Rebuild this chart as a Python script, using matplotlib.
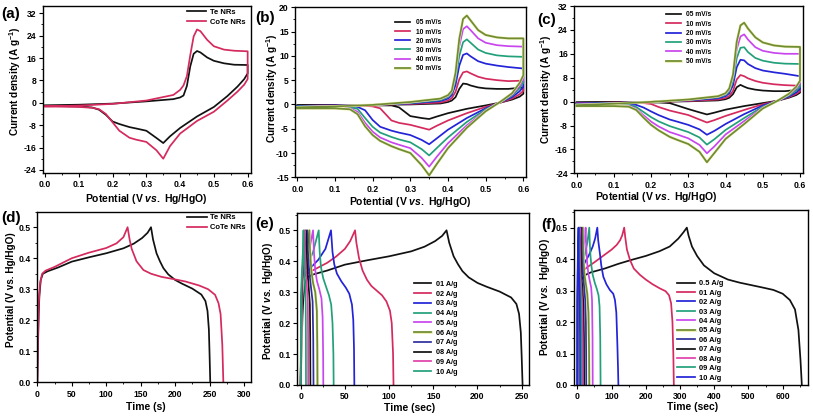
import matplotlib
matplotlib.use('Agg')
import matplotlib.pyplot as plt
from matplotlib.ticker import AutoMinorLocator
import matplotlib.patheffects as pe

plt.rcParams['font.family'] = ['Liberation Sans', 'DejaVu Sans']
plt.rcParams['font.weight'] = 'bold'
plt.rcParams['mathtext.fontset'] = 'custom'
plt.rcParams['mathtext.rm'] = 'Liberation Sans:bold'
plt.rcParams['mathtext.bf'] = 'Liberation Sans:bold'
plt.rcParams['mathtext.it'] = 'Liberation Sans:italic:bold'
plt.rcParams['mathtext.sf'] = 'Liberation Sans:bold'

# ---------------- CV data (potential grids shared) ----------------
E_AN = [0.0, 0.1, 0.2, 0.3, 0.38, 0.40, 0.41, 0.42, 0.43, 0.44, 0.45, 0.46, 0.48, 0.50, 0.53, 0.56, 0.60]
E_CA = [0.60, 0.59, 0.57, 0.54, 0.50, 0.45, 0.40, 0.37, 0.35, 0.33, 0.30, 0.27, 0.25, 0.22, 0.20, 0.18, 0.16, 0.14, 0.10, 0.0]

# (a) Te NRs / CoTe NRs
a_labels = ['Te NRs', 'CoTe NRs']
a_te_an = [-0.9, -0.7, -0.3, 0.5, 1.3, 1.9, 2.6, 6.0, 13.0, 17.5, 18.5, 18.0, 16.2, 15.0, 14.1, 13.6, 13.5]
a_te_ca = [10.5, 8.5, 5.8, 2.4, -1.5, -4.9, -9.0, -12.0, -14.4, -12.6, -10.0, -9.2, -8.7, -7.6, -6.7, -4.3, -2.5, -1.7, -1.3, -1.1]
a_co_an = [-1.3, -1.0, -0.4, 0.8, 2.8, 4.6, 6.2, 9.5, 17.0, 23.7, 26.2, 25.6, 22.5, 20.2, 19.0, 18.6, 18.4]
a_co_ca = [8.5, 6.5, 4.0, 0.8, -3.2, -6.5, -11.0, -15.5, -20.0, -17.0, -14.0, -13.2, -12.5, -10.0, -7.0, -4.0, -2.3, -1.8, -1.5, -1.3]

# (b) scan rates
b_labels = ['05 mV/s', '10 mV/s', '20 mV/s', '30 mV/s', '40 mV/s', '50 mV/s']
b_an = [
    [-0.2, -0.1, -0.1, 0.0, 0.2, 0.5, 0.8, 1.5, 3.2, 4.3, 4.2, 3.9, 3.5, 3.3, 3.2, 3.2, 3.5],
    [-0.3, -0.2, -0.1, 0.1, 0.4, 0.8, 1.3, 2.6, 5.2, 6.6, 6.8, 6.4, 5.7, 5.3, 5.0, 4.8, 4.9],
    [-0.3, -0.2, -0.1, 0.2, 0.7, 1.2, 1.9, 4.0, 8.0, 10.2, 10.5, 9.9, 8.9, 8.4, 8.0, 7.7, 7.4],
    [-0.4, -0.3, -0.1, 0.3, 0.9, 1.5, 2.3, 5.0, 10.0, 12.8, 13.4, 12.7, 11.3, 10.6, 10.1, 9.9, 9.8],
    [-0.5, -0.3, -0.1, 0.4, 1.1, 1.7, 2.6, 5.8, 12.0, 15.5, 16.1, 15.3, 13.6, 12.7, 12.2, 12.0, 11.9],
    [-0.6, -0.4, -0.1, 0.5, 1.2, 1.9, 2.8, 6.5, 13.5, 17.6, 18.3, 17.3, 15.3, 14.3, 13.8, 13.6, 13.6],
]
b_ca = [
    [2.2, 1.6, 1.0, 0.4, -0.2, -0.9, -1.8, -2.5, -3.0, -2.8, -2.4, -0.6, -0.2, -0.2, -0.2, -0.2, -0.2, -0.2, -0.2, -0.2],
    [2.8, 2.1, 1.2, 0.4, -0.5, -1.8, -3.3, -4.4, -5.2, -4.8, -4.2, -3.8, -3.3, -0.8, -0.4, -0.3, -0.3, -0.3, -0.3, -0.3],
    [3.6, 2.7, 1.5, 0.5, -0.8, -2.8, -5.2, -7.0, -8.2, -7.3, -6.3, -5.8, -5.4, -4.6, -3.2, -1.2, -0.5, -0.4, -0.3, -0.3],
    [4.5, 3.3, 1.8, 0.5, -1.0, -3.6, -6.8, -9.0, -10.5, -9.2, -7.8, -7.2, -6.7, -5.8, -4.6, -2.8, -0.9, -0.6, -0.5, -0.5],
    [5.2, 3.8, 2.0, 0.6, -1.2, -4.3, -8.0, -10.8, -12.8, -11.0, -9.0, -8.3, -7.8, -6.8, -5.6, -3.8, -1.5, -0.8, -0.6, -0.6],
    [6.0, 4.4, 2.3, 0.6, -1.4, -4.8, -9.0, -12.3, -14.6, -12.5, -10.0, -9.2, -8.6, -7.5, -6.3, -4.5, -2.0, -1.0, -0.8, -0.8],
]

# (c) scan rates
c_labels = ['05 mV/s', '10 mV/s', '20 mV/s', '30 mV/s', '40 mV/s', '50 mV/s']
c_an = [
    [-0.3, -0.2, -0.1, 0.1, 0.4, 0.8, 1.3, 2.5, 4.8, 5.6, 5.0, 4.5, 4.0, 3.7, 3.5, 3.5, 4.0],
    [-0.5, -0.3, -0.1, 0.2, 0.7, 1.2, 1.9, 3.6, 7.4, 8.9, 8.5, 7.8, 6.9, 6.3, 5.8, 5.5, 5.3],
    [-0.6, -0.4, -0.1, 0.4, 1.1, 1.8, 2.8, 5.5, 11.5, 14.0, 13.8, 12.6, 11.2, 10.4, 9.8, 9.3, 8.5],
    [-0.8, -0.5, -0.1, 0.5, 1.4, 2.2, 3.4, 6.8, 14.5, 18.0, 18.2, 16.6, 14.6, 13.7, 13.0, 12.7, 12.6],
    [-1.0, -0.6, -0.1, 0.6, 1.6, 2.5, 3.9, 8.0, 17.5, 21.8, 22.5, 20.8, 18.2, 17.0, 16.3, 16.0, 16.0],
    [-1.2, -0.7, -0.1, 0.7, 1.8, 2.8, 4.4, 9.0, 20.0, 25.5, 26.4, 24.5, 21.5, 19.8, 18.8, 18.4, 18.3],
]
c_ca = [
    [3.0, 2.2, 1.3, 0.3, -0.5, -1.5, -2.7, -3.7, -4.3, -3.6, -2.5, -1.3, -0.5, -0.3, -0.3, -0.3, -0.3, -0.3, -0.3, -0.3],
    [3.5, 2.6, 1.5, 0.3, -0.9, -2.8, -4.8, -6.2, -7.0, -6.0, -4.5, -3.6, -3.0, -1.8, -0.8, -0.5, -0.5, -0.5, -0.5, -0.5],
    [4.2, 3.1, 1.7, 0.3, -1.3, -4.2, -7.5, -9.8, -11.1, -9.3, -7.8, -6.7, -6.0, -4.5, -3.3, -2.0, -1.1, -0.9, -0.8, -0.8],
    [5.0, 3.7, 2.0, 0.3, -1.7, -5.5, -9.5, -12.6, -14.4, -12.0, -10.2, -9.0, -8.2, -6.6, -5.2, -3.5, -1.8, -1.1, -1.0, -1.0],
    [6.0, 4.4, 2.3, 0.3, -2.0, -6.5, -11.0, -15.0, -17.3, -14.5, -12.3, -11.0, -10.2, -8.3, -6.7, -4.6, -2.4, -1.4, -1.2, -1.2],
    [7.0, 5.0, 2.6, 0.3, -2.3, -7.5, -12.5, -17.2, -20.3, -16.8, -14.2, -12.8, -11.8, -9.6, -7.8, -5.4, -2.8, -1.7, -1.5, -1.5],
]

# ---------------- GCD data ----------------
# (d)
d_labels = ['Te NRs', 'CoTe NRs']
d_te_t = [0, 1, 2, 3, 5, 8, 15, 30, 50, 75, 100, 125, 140, 152, 160, 165, 168, 173, 178, 183, 190, 200, 210, 225, 238, 244, 247, 249, 250, 251]
d_te_v = [0, 0.12, 0.22, 0.28, 0.33, 0.35, 0.358, 0.37, 0.389, 0.403, 0.416, 0.432, 0.447, 0.465, 0.482, 0.5, 0.46, 0.416, 0.39, 0.368, 0.348, 0.33, 0.318, 0.302, 0.283, 0.262, 0.23, 0.17, 0.09, 0]
d_co_t = [0, 1, 2, 4, 7, 12, 25, 50, 75, 100, 115, 125, 131, 134, 137, 144, 154, 165, 180, 197, 215, 235, 248, 258, 263, 266, 268.5, 270]
d_co_v = [0, 0.15, 0.25, 0.32, 0.35, 0.36, 0.372, 0.4, 0.418, 0.433, 0.448, 0.468, 0.5, 0.46, 0.43, 0.39, 0.362, 0.35, 0.34, 0.333, 0.325, 0.312, 0.3, 0.282, 0.255, 0.22, 0.12, 0]

# (e)
e_labels = ['01 A/g', '02 A/g', '03 A/g', '04 A/g', '05 A/g', '06 A/g', '07 A/g', '08 A/g', '09 A/g', '10 A/g']
e_t = [
    [0, 1, 2, 3, 5, 8, 15, 30, 50, 75, 100, 125, 140, 152, 160, 165, 168, 173, 178, 183, 190, 200, 210, 225, 238, 244, 247, 249, 250, 251],
    [0, 1, 2, 4, 10, 20, 30, 40, 50, 56, 61.5, 63, 66, 70, 75, 80, 86, 92, 97, 101, 103, 104.5, 105],
    [0, 1, 2, 4, 10, 20, 28, 34.3, 36, 38, 41, 46, 51, 55, 58, 59.5, 60.3, 60.7],
    [0, 1, 2, 4, 8, 14, 20.4, 21.5, 23, 25.5, 29, 32, 34.5, 36, 37, 37.3],
    [0, 1, 2, 4, 8, 14, 15, 16.5, 18.5, 21, 23.5, 24.8, 25.4, 25.6],
    [0, 1, 2, 4, 7, 9.8, 10.6, 12, 14, 16.5, 18.3, 18.8, 19],
    [0, 1, 2, 3.5, 5.5, 7.5, 8.2, 9.5, 11.5, 13.5, 14.2, 14.5],
    [0, 1, 2, 3, 4.5, 6, 6.6, 7.6, 9, 10.4, 10.8, 11],
    [0, 0.8, 1.6, 2.5, 3.5, 4.5, 5, 5.8, 7, 8.1, 8.4, 8.5],
    [0, 0.6, 1.2, 1.8, 2.5, 3.2, 3.6, 4.2, 5, 5.7, 5.9, 6],
]
e_v = [
    [0, 0.12, 0.22, 0.28, 0.33, 0.35, 0.358, 0.37, 0.389, 0.403, 0.416, 0.432, 0.447, 0.465, 0.482, 0.5, 0.46, 0.416, 0.39, 0.368, 0.348, 0.33, 0.318, 0.302, 0.283, 0.262, 0.23, 0.17, 0.09, 0],
    [0, 0.2, 0.3, 0.35, 0.365, 0.38, 0.395, 0.415, 0.44, 0.465, 0.5, 0.46, 0.41, 0.37, 0.34, 0.32, 0.305, 0.29, 0.27, 0.24, 0.2, 0.1, 0],
    [0, 0.22, 0.32, 0.355, 0.375, 0.405, 0.44, 0.5, 0.43, 0.39, 0.36, 0.335, 0.315, 0.295, 0.26, 0.21, 0.12, 0],
    [0, 0.22, 0.32, 0.36, 0.39, 0.43, 0.5, 0.43, 0.38, 0.345, 0.315, 0.29, 0.26, 0.2, 0.1, 0],
    [0, 0.25, 0.33, 0.37, 0.41, 0.5, 0.43, 0.37, 0.335, 0.31, 0.28, 0.22, 0.1, 0],
    [0, 0.27, 0.34, 0.38, 0.43, 0.5, 0.43, 0.37, 0.33, 0.3, 0.24, 0.12, 0],
    [0, 0.28, 0.35, 0.39, 0.43, 0.5, 0.43, 0.37, 0.32, 0.27, 0.15, 0],
    [0, 0.29, 0.36, 0.39, 0.43, 0.5, 0.43, 0.37, 0.32, 0.26, 0.15, 0],
    [0, 0.29, 0.36, 0.39, 0.43, 0.5, 0.43, 0.37, 0.32, 0.26, 0.15, 0],
    [0, 0.29, 0.36, 0.39, 0.43, 0.5, 0.43, 0.37, 0.32, 0.26, 0.15, 0],
]

# (f)
f_labels = ['0.5 A/g', '01 A/g', '02 A/g', '03 A/g', '04 A/g', '05 A/g', '06 A/g', '07 A/g', '08 A/g', '09 A/g', '10 A/g']
f_t = [
    [0, 2, 4, 7, 12, 20, 40, 80, 120, 160, 200, 240, 270, 295, 310, 320, 325, 335, 350, 370, 400, 440, 475, 540, 573, 600, 621, 636, 646, 652, 656],
    [0, 1, 2, 4, 8, 15, 30, 50, 75, 100, 115, 125, 131, 137, 140, 145, 154, 165, 183, 200, 220, 241, 258, 268, 274, 278, 280.5, 282],
    [0, 1, 2, 4, 8, 15, 25, 35, 45, 52, 58.4, 61, 66, 70, 76, 85, 95, 105, 110, 114, 117, 119, 120],
    [0, 1, 2, 4, 8, 15, 22, 29, 35, 36.5, 38.5, 41, 45, 51, 57, 62, 65, 67, 68],
    [0, 1, 2, 4, 8, 13, 18, 23, 24.2, 26, 28.5, 32, 36.5, 40.5, 43, 44.5, 45],
    [0, 1, 2, 4, 7, 11, 16, 17, 18.5, 21, 25, 29, 32.5, 34.2, 35],
    [0, 1, 2, 3.5, 6, 9, 12, 12.8, 14, 16.5, 20, 23, 25, 25.8, 26],
    [0, 1, 2, 3, 5, 7, 9, 9.6, 10.6, 12.5, 15.5, 18, 19.5, 20],
    [0, 0.8, 1.6, 2.5, 4, 5.5, 7, 7.5, 8.3, 9.8, 12.2, 14.3, 15.5, 16],
    [0, 0.6, 1.2, 2, 3, 4, 5, 5.4, 6, 7.3, 9.2, 10.8, 11.7, 12],
    [0, 0.4, 0.8, 1.3, 2, 2.8, 3.5, 3.8, 4.3, 5.2, 6.4, 7.4, 7.8, 8],
]
f_v = [
    [0, 0.15, 0.26, 0.31, 0.335, 0.348, 0.358, 0.37, 0.385, 0.398, 0.41, 0.425, 0.44, 0.465, 0.485, 0.5, 0.475, 0.44, 0.41, 0.38, 0.355, 0.335, 0.325, 0.31, 0.302, 0.29, 0.27, 0.24, 0.175, 0.08, 0],
    [0, 0.15, 0.25, 0.32, 0.35, 0.362, 0.375, 0.39, 0.41, 0.43, 0.445, 0.46, 0.475, 0.5, 0.47, 0.43, 0.397, 0.37, 0.35, 0.335, 0.32, 0.307, 0.298, 0.285, 0.26, 0.2, 0.1, 0],
    [0, 0.18, 0.28, 0.34, 0.36, 0.375, 0.395, 0.415, 0.44, 0.465, 0.5, 0.46, 0.418, 0.38, 0.344, 0.32, 0.302, 0.29, 0.27, 0.23, 0.13, 0.05, 0],
    [0, 0.2, 0.3, 0.35, 0.37, 0.39, 0.415, 0.45, 0.5, 0.45, 0.41, 0.38, 0.35, 0.325, 0.305, 0.285, 0.25, 0.15, 0],
    [0, 0.22, 0.31, 0.355, 0.38, 0.4, 0.43, 0.48, 0.5, 0.44, 0.39, 0.355, 0.33, 0.31, 0.27, 0.15, 0],
    [0, 0.24, 0.33, 0.37, 0.4, 0.44, 0.5, 0.44, 0.39, 0.35, 0.32, 0.29, 0.23, 0.12, 0],
    [0, 0.26, 0.34, 0.38, 0.42, 0.46, 0.5, 0.44, 0.39, 0.35, 0.31, 0.27, 0.2, 0.1, 0],
    [0, 0.27, 0.35, 0.39, 0.43, 0.47, 0.5, 0.44, 0.39, 0.34, 0.3, 0.25, 0.15, 0],
    [0, 0.27, 0.35, 0.39, 0.43, 0.47, 0.5, 0.44, 0.39, 0.34, 0.3, 0.25, 0.15, 0],
    [0, 0.27, 0.35, 0.39, 0.43, 0.47, 0.5, 0.44, 0.39, 0.34, 0.3, 0.25, 0.15, 0],
    [0, 0.27, 0.35, 0.39, 0.43, 0.47, 0.5, 0.44, 0.39, 0.34, 0.3, 0.25, 0.15, 0],
]

# tick labels
cv_xticks = [0.0, 0.1, 0.2, 0.3, 0.4, 0.5, 0.6]
cv_xticklabels = ['0.0', '0.1', '0.2', '0.3', '0.4', '0.5', '0.6']
ac_yticks = [-24, -16, -8, 0, 8, 16, 24, 32]
b_yticks = [-15, -10, -5, 0, 5, 10, 15, 20]
gcd_yticks = [0.0, 0.1, 0.2, 0.3, 0.4, 0.5]
gcd_yticklabels = ['0.0', '0.1', '0.2', '0.3', '0.4', '0.5']
d_xticks = [0, 50, 100, 150, 200, 250, 300]
e_xticks = [0, 50, 100, 150, 200, 250]
f_xticks = [0, 100, 200, 300, 400, 500, 600]

# colours
BLACK = '#111111'
RED = '#d42a5e'
BLUE = '#2323d8'
TEAL = '#22a07a'
VIOLET = '#c846ee'
OLIVE = '#6f8c34'
NAVY = '#2e2e9c'
MAGENTA = '#e040a8'
cv_colors = [BLACK, RED, BLUE, TEAL, VIOLET, OLIVE]
e_colors = [BLACK, RED, BLUE, TEAL, VIOLET, OLIVE, NAVY, BLACK, MAGENTA, TEAL]
f_colors = [BLACK, RED, BLUE, TEAL, VIOLET, OLIVE, NAVY, BLACK, MAGENTA, TEAL, BLUE]

W, H = 813.0, 416.0
fig = plt.figure(figsize=(8.13, 4.16), dpi=100)
fig.patch.set_facecolor('white')


def px_axes(l, t, r, b):
    return fig.add_axes([l / W, 1 - b / H, (r - l) / W, (b - t) / H])


def style(ax, xlim, ylim, xticks, xtl, yticks, ytl):
    ax.set_xlim(*xlim)
    ax.set_ylim(*ylim)
    ax.set_xticks(xticks)
    ax.set_xticklabels(xtl)
    ax.set_yticks(yticks)
    ax.set_yticklabels(ytl)
    ax.xaxis.set_minor_locator(AutoMinorLocator(2))
    ax.yaxis.set_minor_locator(AutoMinorLocator(2))
    ax.tick_params(which='major', direction='out', length=3, width=0.8,
                   labelsize=6.2, pad=1.5, top=False, right=False)
    ax.tick_params(axis='x', which='major', pad=2.2)
    ax.tick_params(which='minor', direction='out', length=1.7, width=0.6,
                   top=False, right=False)
    for s in ax.spines.values():
        s.set_linewidth(1.0)


def set_labels(ax, xl, yl, xpos, ypos, yfs=7.2):
    # xpos, ypos: label centres in figure pixels
    ax.set_xlabel(xl, fontsize=7.5, fontweight='bold', va='center', ha='center')
    ax.set_ylabel(yl, fontsize=yfs, fontweight='bold', va='center', ha='center')
    inv = ax.transAxes.inverted()
    fx = inv.transform(fig.transFigure.transform((xpos[0] / W, 1 - xpos[1] / H)))
    fy = inv.transform(fig.transFigure.transform((ypos[0] / W, 1 - ypos[1] / H)))
    ax.xaxis.set_label_coords(fx[0], fx[1])
    ax.yaxis.set_label_coords(fy[0], fy[1])


def add_legend(ax, x, y, fs, hl, ls, htp):
    ax.legend(loc='upper left', bbox_to_anchor=(x, y), frameon=False,
              handlelength=hl, labelspacing=ls, handletextpad=htp,
              borderaxespad=0, borderpad=0, prop={'weight': 'bold', 'size': fs})


halo = [pe.Stroke(linewidth=2.0, foreground='#eeeeb0'), pe.Normal()]

POT_LABEL = r'Potential (V $\mathit{vs.}$ Hg/HgO)'
CUR_LABEL = r'Current density (A g$^{\mathbf{-1}}$)'
LW = 1.25

# ---------- (a) ----------
axa = px_axes(42.7, 5.7, 250.7, 172.7)
axa.plot(E_AN + E_CA, a_te_an + a_te_ca, color=BLACK, lw=LW, label=a_labels[0])
axa.plot(E_AN + E_CA, a_co_an + a_co_ca, color=RED, lw=LW, label=a_labels[1])
style(axa, (-0.007, 0.609), (-25, 34.7), cv_xticks, cv_xticklabels,
      ac_yticks, [str(v) for v in ac_yticks])
set_labels(axa, POT_LABEL, CUR_LABEL, (146, 199.5), (15, 81))
add_legend(axa, 0.692, 0.984, 5.5, 2.6, 0.36, 0.4)

# ---------- (b) ----------
axb = px_axes(295, 7.3, 526, 177.3)
for i in range(6):
    ln, = axb.plot(E_AN + E_CA, b_an[i] + b_ca[i], color=cv_colors[i], lw=LW, label=b_labels[i])
    if i == 5:
        ln.set_path_effects(halo)
style(axb, (-0.006, 0.607), (-15, 20), cv_xticks, cv_xticklabels,
      b_yticks, [str(v) for v in b_yticks])
set_labels(axb, POT_LABEL, CUR_LABEL, (410, 201.7), (272, 88))
add_legend(axb, 0.433, 0.929, 4.8, 2.25, 0.32, 0.85)

# ---------- (c) ----------
axc = px_axes(574, 6, 803, 173.3)
for i in range(6):
    ln, = axc.plot(E_AN + E_CA, c_an[i] + c_ca[i], color=cv_colors[i], lw=LW, label=c_labels[i])
    if i == 5:
        ln.set_path_effects(halo)
style(axc, (-0.007, 0.608), (-24, 32), cv_xticks, cv_xticklabels,
      ac_yticks, [str(v) for v in ac_yticks])
set_labels(axc, POT_LABEL, CUR_LABEL, (656.7, 196.7), (546, 89))
add_legend(axc, 0.402, 0.968, 4.8, 2.25, 0.35, 0.7)

# ---------- (d) ----------
axd = px_axes(36.7, 211.7, 250.7, 382.3)
axd.plot(d_te_t, d_te_v, color=BLACK, lw=LW, label=d_labels[0])
axd.plot(d_co_t, d_co_v, color=RED, lw=LW, label=d_labels[1])
style(axd, (-0.9, 309.7), (0, 0.55), d_xticks, [str(v) for v in d_xticks],
      gcd_yticks, gcd_yticklabels)
set_labels(axd, 'Time (s)', 'Potential (V vs. Hg/HgO)', (146, 407), (11, 290))
add_legend(axd, 0.701, 0.987, 5.5, 2.6, 0.36, 0.4)

# ---------- (e) ----------
axe = px_axes(296.7, 213.3, 529.3, 385)
for i in range(10):
    ln, = axe.plot(e_t[i], e_v[i], color=e_colors[i], lw=LW, label=e_labels[i])
    if i == 5:
        ln.set_path_effects(halo)
style(axe, (-4.5, 258.6), (0, 0.555), e_xticks, [str(v) for v in e_xticks],
      gcd_yticks, gcd_yticklabels)
set_labels(axe, 'Time (sec)', POT_LABEL, (410, 407.7), (268, 301))
add_legend(axe, 0.504, 0.606, 5.2, 2.4, 0.37, 0.68)

# ---------- (f) ----------
axf = px_axes(574.3, 210, 808, 385)
for i in range(11):
    ln, = axf.plot(f_t[i], f_v[i], color=f_colors[i], lw=LW, label=f_labels[i])
    if i == 5:
        ln.set_path_effects(halo)
style(axf, (-8.8, 674), (0, 0.556), f_xticks, [str(v) for v in f_xticks],
      gcd_yticks, gcd_yticklabels)
set_labels(axf, 'Time (sec)', POT_LABEL, (693, 406.7), (545, 297))
add_legend(axf, 0.438, 0.60, 5.4, 2.5, 0.29, 0.52)

# panel letters
for lab, x, y in [('(a)', 11, 14), ('(b)', 265, 18), ('(c)', 547, 20),
                  ('(d)', 11, 218), ('(e)', 265, 224), ('(f)', 549, 225)]:
    fig.text(x / W, 1 - y / H, lab, fontsize=11, fontweight='bold',
             ha='center', va='center')

fig.savefig('out.png', dpi=100, facecolor='white')
